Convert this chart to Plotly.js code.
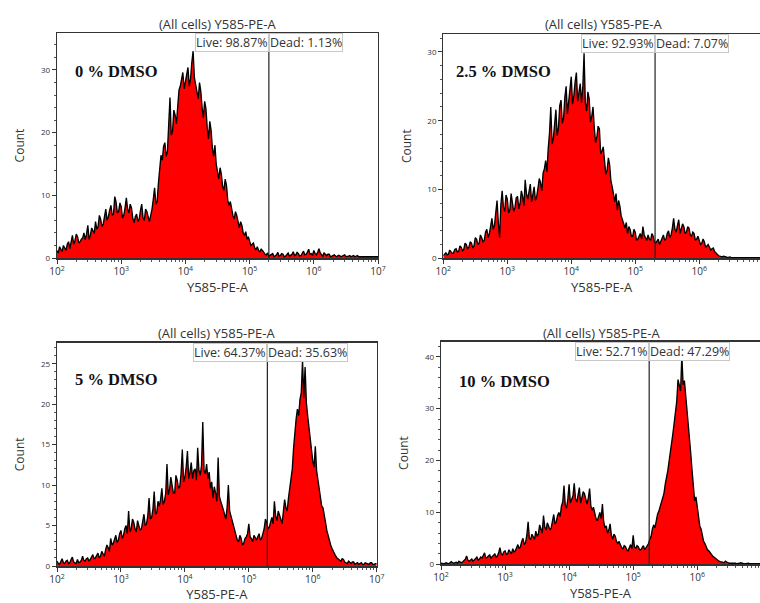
<!DOCTYPE html>
<html>
<head>
<meta charset="utf-8">
<script src="https://cdn.plot.ly/plotly-3.0.1.min.js"></script>
<style>
  html, body { margin: 0; padding: 0; background: #fff; }
  #chart { width: 760px; height: 603px; }
</style>
</head>
<body>
<div id="chart"></div>
<script>
// ---- Data ----
// Channel positions as log10 of Y585-PE-A intensity
const channelLog = [
  2.00, 2.02, 2.04, 2.06, 2.08, 2.10, 2.12, 2.14, 2.16, 2.18, 2.20, 2.22, 2.24, 2.26, 2.28, 2.30, 2.32, 2.34, 2.36, 2.38,
  2.40, 2.42, 2.44, 2.46, 2.48, 2.50, 2.52, 2.54, 2.56, 2.58, 2.60, 2.62, 2.64, 2.66, 2.68, 2.70, 2.72, 2.74, 2.76, 2.78,
  2.80, 2.82, 2.84, 2.86, 2.88, 2.90, 2.92, 2.94, 2.96, 2.98, 3.00, 3.02, 3.04, 3.06, 3.08, 3.10, 3.12, 3.14, 3.16, 3.18,
  3.20, 3.22, 3.24, 3.26, 3.28, 3.30, 3.32, 3.34, 3.36, 3.38, 3.40, 3.42, 3.44, 3.46, 3.48, 3.50, 3.52, 3.54, 3.56, 3.58,
  3.60, 3.62, 3.64, 3.66, 3.68, 3.70, 3.72, 3.74, 3.76, 3.78, 3.80, 3.82, 3.84, 3.86, 3.88, 3.90, 3.92, 3.94, 3.96, 3.98,
  4.00, 4.02, 4.04, 4.06, 4.08, 4.10, 4.12, 4.14, 4.16, 4.18, 4.20, 4.22, 4.24, 4.26, 4.28, 4.30, 4.32, 4.34, 4.36, 4.38,
  4.40, 4.42, 4.44, 4.46, 4.48, 4.50, 4.52, 4.54, 4.56, 4.58, 4.60, 4.62, 4.64, 4.66, 4.68, 4.70, 4.72, 4.74, 4.76, 4.78,
  4.80, 4.82, 4.84, 4.86, 4.88, 4.90, 4.92, 4.94, 4.96, 4.98, 5.00, 5.02, 5.04, 5.06, 5.08, 5.10, 5.12, 5.14, 5.16, 5.18,
  5.20, 5.22, 5.24, 5.26, 5.28, 5.30, 5.32, 5.34, 5.36, 5.38, 5.40, 5.42, 5.44, 5.46, 5.48, 5.50, 5.52, 5.54, 5.56, 5.58,
  5.60, 5.62, 5.64, 5.66, 5.68, 5.70, 5.72, 5.74, 5.76, 5.78, 5.80, 5.82, 5.84, 5.86, 5.88, 5.90, 5.92, 5.94, 5.96, 5.98,
  6.00, 6.02, 6.04, 6.06, 6.08, 6.10, 6.12, 6.14, 6.16, 6.18, 6.20, 6.22, 6.24, 6.26, 6.28, 6.30, 6.32, 6.34, 6.36, 6.38,
  6.40, 6.42, 6.44, 6.46, 6.48, 6.50, 6.52, 6.54, 6.56, 6.58, 6.60, 6.62, 6.64, 6.66, 6.68, 6.70, 6.72, 6.74, 6.76, 6.78,
  6.80, 6.82, 6.84, 6.86, 6.88, 6.90, 6.92, 6.94, 6.96, 6.98, 7.00
];

const count0 = [
  1.2, 0.8, 1.8, 1.3, 1.0, 2.0, 1.6, 1.2, 2.2, 2.6, 1.5, 2.4, 3.6, 2.2, 2.8, 3.8, 3.4, 2.4, 2.6, 3.0,
  3.2, 4.0, 2.9, 3.8, 5.2, 3.0, 3.6, 4.8, 4.4, 3.9, 5.8, 4.6, 5.0, 6.8, 6.2, 5.0, 5.4, 6.6, 7.8, 6.0,
  6.6, 7.6, 8.4, 6.8, 7.0, 9.8, 8.9, 7.2, 7.4, 8.8, 8.2, 6.4, 6.8, 8.0, 9.6, 7.8, 7.2, 8.6, 8.0, 6.4,
  5.6, 6.6, 7.0, 5.8, 6.2, 7.6, 8.6, 6.4, 6.0, 7.8, 7.4, 6.6, 5.8, 6.8, 7.8, 9.4, 11.2, 8.6, 9.0, 12.0,
  13.8, 16.4, 15.6, 17.8, 18.4, 16.2, 17.0, 21.0, 25.6, 19.6, 20.2, 23.6, 22.8, 21.4, 24.6, 26.8, 27.4, 28.8, 29.6, 27.0,
  28.2, 29.8, 30.4, 27.4, 28.6, 31.2, 33.0, 28.8, 27.8, 26.2, 25.4, 28.0, 26.6, 24.0, 22.4, 25.0, 23.8, 20.8, 19.0, 21.8,
  20.4, 17.6, 16.2, 18.0, 15.0, 13.8, 12.6, 14.4, 13.4, 11.4, 10.8, 12.6, 11.6, 9.2, 8.4, 9.0, 7.6, 6.8, 6.2, 7.4,
  6.8, 5.4, 4.8, 5.8, 5.2, 4.0, 3.6, 4.2, 3.0, 3.4, 2.6, 2.0, 2.2, 2.4, 1.6, 1.3, 1.8, 1.2, 1.0, 1.4,
  1.2, 0.8, 0.6, 0.5, 0.8, 0.3, 0.4, 0.6, 0.7, 0.2, 0.3, 0.5, 0.9, 0.3, 0.4, 0.7, 0.6, 0.2, 0.3, 0.5,
  0.8, 0.3, 0.4, 0.6, 1.0, 0.4, 0.5, 0.9, 0.7, 0.3, 0.4, 0.8, 1.1, 0.5, 0.6, 0.9, 1.4, 0.6, 0.7, 0.4,
  1.2, 0.7, 0.5, 0.9, 1.5, 0.8, 0.6, 0.3, 0.8, 0.5, 0.4, 0.6, 0.6, 0.2, 0.3, 0.4, 0.5, 0.3, 0.2, 0.4,
  0.4, 0.2, 0.3, 0.4, 0.5, 0.2, 0.2, 0.3, 0.4, 0.2, 0.3, 0.4, 0.2, 0.3, 0.4, 0.2, 0.2, 0.3, 0.3, 0.2,
  0.2, 0.3, 0.3, 0.2, 0.2, 0.3, 0.3, 0.2, 0.2, 0.3, 0.2
];

const count2_5 = [
  0.4, 0.7, 0.8, 0.5, 0.6, 1.2, 1.0, 0.7, 0.8, 1.3, 1.4, 0.9, 1.0, 1.8, 1.6, 1.1, 1.3, 2.2, 2.0, 1.4,
  1.6, 2.4, 2.2, 1.5, 1.8, 3.0, 2.8, 2.0, 2.2, 3.4, 3.0, 2.4, 2.6, 3.8, 4.2, 3.0, 3.6, 5.0, 5.8, 4.2,
  4.8, 6.6, 8.4, 5.2, 3.0, 7.8, 9.8, 7.4, 6.8, 9.2, 8.6, 6.6, 7.0, 9.4, 8.2, 6.8, 7.4, 8.8, 9.0, 7.2,
  8.0, 9.8, 9.0, 7.6, 11.4, 9.4, 8.6, 10.0, 10.8, 8.2, 9.2, 10.4, 8.4, 9.0, 10.2, 11.6, 11.0, 9.8, 12.4, 13.0,
  14.2, 12.6, 16.0, 18.2, 22.0, 16.6, 17.4, 19.8, 21.6, 17.8, 19.0, 22.2, 23.0, 19.6, 20.4, 23.4, 25.0, 21.0, 22.8, 25.2,
  26.4, 22.4, 23.6, 25.6, 27.0, 22.8, 24.0, 25.4, 22.6, 24.8, 29.8, 22.6, 21.4, 24.2, 23.2, 19.8, 20.6, 22.0, 19.0, 16.8,
  17.6, 19.2, 18.8, 15.2, 15.6, 16.2, 14.2, 12.2, 12.8, 14.6, 13.6, 11.2, 10.4, 9.2, 8.2, 9.4, 7.0, 8.4, 7.6, 6.2,
  5.6, 4.8, 4.4, 5.2, 3.6, 4.6, 4.2, 3.2, 3.2, 4.2, 3.8, 2.6, 2.8, 3.2, 3.6, 2.8, 4.6, 3.4, 3.0, 2.6,
  3.4, 2.8, 2.6, 3.6, 3.2, 2.4, 2.2, 2.6, 2.8, 2.0, 2.4, 3.0, 3.4, 2.6, 2.8, 3.6, 4.0, 3.0, 3.4, 4.4,
  5.8, 4.2, 3.8, 4.8, 5.6, 3.6, 4.2, 5.0, 4.6, 3.6, 3.8, 4.6, 4.4, 3.4, 3.2, 3.8, 3.6, 2.6, 2.8, 3.2,
  2.6, 2.0, 2.2, 2.8, 2.4, 1.6, 1.8, 2.0, 1.6, 1.2, 1.4, 1.5, 1.0, 0.8, 0.5, 0.4, 0.3, 0.2, 0.2, 0.3,
  0.3, 0.2, 0.1, 0.2, 0.2, 0.1, 0.1, 0.2, 0.2, 0.1, 0.1, 0.2, 0.2, 0.1, 0.1, 0.2, 0.1, 0.1, 0.2, 0.1,
  0.1, 0.2, 0.1, 0.1, 0.2, 0.1, 0.1, 0.2, 0.1, 0.1, 0.1
];

const count5 = [
  0.6, 0.3, 0.2, 0.5, 0.9, 0.4, 0.3, 0.6, 0.7, 0.3, 0.4, 0.8, 1.1, 0.5, 0.4, 0.3, 0.8, 0.4, 0.5, 0.7,
  1.2, 0.7, 0.6, 0.9, 1.0, 0.6, 0.8, 1.2, 1.4, 0.9, 1.0, 1.3, 1.6, 1.0, 1.2, 1.8, 1.5, 1.2, 2.0, 2.6,
  2.3, 1.8, 3.4, 2.6, 2.8, 3.2, 3.8, 2.9, 3.2, 4.0, 4.4, 3.4, 3.8, 4.6, 5.0, 4.0, 6.8, 4.2, 4.6, 5.8,
  5.4, 4.6, 4.2, 5.6, 5.0, 4.4, 4.6, 5.8, 6.4, 5.0, 5.2, 6.2, 8.4, 5.8, 6.0, 7.0, 9.2, 6.4, 6.6, 8.0,
  7.4, 8.2, 9.6, 7.6, 8.0, 9.0, 12.6, 8.8, 9.4, 11.0, 10.2, 9.0, 9.0, 11.2, 10.6, 9.6, 9.8, 11.4, 14.4, 10.4,
  11.0, 12.2, 14.2, 10.8, 11.6, 12.8, 10.8, 11.8, 12.0, 10.6, 14.6, 11.8, 11.2, 12.4, 17.8, 11.8, 11.4, 12.6, 10.8, 11.6,
  9.6, 10.4, 8.4, 9.8, 9.0, 8.0, 13.4, 8.6, 8.0, 7.6, 7.0, 6.4, 5.8, 7.2, 10.0, 6.8, 6.2, 5.4, 4.8, 4.2,
  3.6, 3.2, 3.0, 3.8, 3.4, 2.6, 2.8, 3.4, 3.6, 4.0, 5.2, 3.6, 3.4, 3.0, 3.8, 3.4, 3.2, 3.6, 4.0, 3.2,
  3.4, 4.0, 4.6, 5.8, 5.4, 4.6, 4.8, 5.4, 6.0, 5.2, 8.0, 6.2, 5.6, 6.8, 6.4, 5.8, 5.2, 6.6, 8.2, 7.2,
  6.8, 8.4, 9.8, 10.8, 12.0, 14.6, 16.8, 18.2, 19.4, 18.6, 20.6, 21.4, 25.4, 20.8, 24.6, 20.2, 18.6, 17.0, 15.4, 14.2,
  13.0, 12.2, 14.8, 11.8, 10.6, 9.8, 8.6, 7.4, 7.2, 6.0, 5.4, 4.4, 3.8, 3.0, 2.6, 2.2, 1.8, 1.4, 1.2, 1.0,
  0.9, 0.7, 0.6, 0.9, 0.8, 0.5, 0.4, 0.3, 0.6, 0.4, 0.3, 0.5, 0.5, 0.2, 0.3, 0.4, 0.2, 0.3, 0.4, 0.2,
  0.2, 0.4, 0.3, 0.2, 0.2, 0.4, 0.4, 0.2, 0.2, 0.3, 0.3
];

const count10 = [
  0.2, 0.1, 0.1, 0.2, 0.3, 0.2, 0.1, 0.3, 0.5, 0.3, 0.2, 0.3, 0.4, 0.2, 0.6, 0.4, 0.3, 0.5, 0.8, 1.0,
  1.6, 0.8, 0.6, 0.9, 1.0, 0.6, 0.8, 1.1, 1.4, 0.8, 1.0, 1.4, 1.2, 1.6, 2.2, 1.2, 1.3, 1.6, 1.8, 1.2,
  1.5, 1.8, 2.0, 1.4, 1.6, 2.2, 3.2, 2.0, 1.8, 2.4, 2.6, 1.9, 2.0, 2.8, 2.4, 2.0, 3.0, 2.4, 2.6, 3.2,
  3.8, 3.0, 3.4, 4.4, 5.0, 3.8, 4.2, 5.6, 8.2, 5.0, 4.8, 5.8, 5.4, 4.8, 6.4, 5.4, 5.8, 7.6, 6.8, 6.0,
  9.4, 7.2, 6.6, 8.0, 7.4, 6.6, 7.0, 8.4, 9.6, 7.8, 8.2, 9.4, 10.0, 9.2, 11.2, 12.0, 15.2, 11.4, 10.8, 12.6,
  15.4, 11.8, 12.4, 13.2, 15.6, 12.6, 12.0, 13.4, 14.8, 11.8, 12.8, 14.0, 13.6, 12.2, 11.6, 12.8, 14.6, 11.2, 10.4, 11.0,
  9.6, 8.8, 8.4, 9.4, 10.0, 8.8, 11.6, 8.2, 7.0, 7.4, 6.0, 6.6, 7.8, 5.6, 4.8, 5.8, 5.4, 4.4, 4.0, 4.4,
  3.6, 3.2, 3.0, 3.6, 3.4, 2.8, 2.6, 3.2, 3.8, 3.0, 5.6, 3.4, 3.0, 3.6, 3.4, 2.8, 2.8, 3.2, 3.6, 2.8,
  3.2, 3.6, 4.0, 4.8, 5.4, 6.8, 7.6, 7.0, 8.4, 9.6, 10.2, 11.0, 11.8, 12.6, 13.6, 15.4, 16.4, 18.0, 19.8, 21.4,
  23.4, 25.2, 27.2, 29.6, 31.4, 35.6, 34.2, 33.4, 40.2, 34.6, 35.4, 32.6, 31.0, 27.4, 24.6, 21.2, 18.0, 14.8, 12.2, 13.0,
  10.8, 8.6, 7.4, 6.8, 5.6, 4.4, 4.0, 3.2, 2.8, 2.6, 2.2, 1.8, 1.6, 1.4, 1.2, 0.9, 0.8, 0.6, 0.5, 0.4,
  0.4, 0.3, 0.6, 0.4, 0.3, 0.2, 0.2, 0.3, 0.3, 0.2, 0.2, 0.1, 0.1, 0.2, 0.3, 0.2, 0.2, 0.1, 0.1, 0.2,
  0.2, 0.1, 0.1, 0.2, 0.2, 0.1, 0.1, 0.2, 0.2, 0.1, 0.1
];

const sampleLabels = ['0 % DMSO', '2.5 % DMSO', '5 % DMSO', '10 % DMSO'];
const liveLabels = ['Live: 98.87%', 'Live: 92.93%', 'Live: 64.37%', 'Live: 52.71%'];
const deadLabels = ['Dead: 1.13%', 'Dead: 7.07%', 'Dead: 35.63%', 'Dead: 47.29%'];
const gateLog = [5.30, 5.31, 5.29, 5.25];
const panelTitle = '(All cells) Y585-PE-A';
const xTitle = 'Y585-PE-A';
const yTitle = 'Count';

// ---- Layout geometry (pixels) ----
const W = 760, H = 603;
const boxes = [
  {l: 57,    r: 378,   t: 33,    b: 258,   xr: [2, 7],    yr: [0, 35.9], dy: 10, mdy: 2, mirrorY: true,  titleX: 217.5, titleY: 24,   lblX: 73,  lblY: 71},
  {l: 443.3, r: 760,   t: 34,    b: 258.3, xr: [2, 6.95], yr: [0, 32.6], dy: 10, mdy: 2, mirrorY: false, titleX: 603.5, titleY: 24.5, lblX: 454, lblY: 71},
  {l: 57,    r: 376.7, t: 342.7, b: 566,   xr: [2, 7],    yr: [0, 27.6], dy: 5,  mdy: 1, mirrorY: true,  titleX: 216.5, titleY: 333,  lblX: 73,  lblY: 379},
  {l: 441,   r: 760,   t: 341.7, b: 564.3, xr: [2, 6.98], yr: [0, 42.9], dy: 10, mdy: 2, mirrorY: false, titleX: 601.5, titleY: 332.7, lblX: 457, lblY: 381}
];
const series = [count0, count2_5, count5, count10];

const FONT = 'Open Sans, DejaVu Sans, sans-serif';
const xValues = channelLog.map(v => Math.pow(10, v));

const traces = [];
const layout = {
  width: W, height: H,
  margin: {l: 0, r: 0, t: 0, b: 0},
  paper_bgcolor: '#fff', plot_bgcolor: '#fff',
  showlegend: false,
  font: {family: FONT, color: '#333'},
  annotations: []
};

boxes.forEach((bx, i) => {
  const n = i === 0 ? '' : String(i + 1);
  traces.push({
    type: 'scatter', mode: 'lines',
    x: xValues, y: series[i],
    xaxis: 'x' + n, yaxis: 'y' + n,
    fill: 'tozeroy', fillcolor: '#ff0000',
    line: {color: '#000', width: 1.35},
    hoverinfo: 'skip'
  });
  // gate line (live / dead boundary)
  const g = Math.pow(10, gateLog[i]);
  traces.push({
    type: 'scatter', mode: 'lines',
    x: [g, g], y: [bx.yr[0], bx.yr[1]],
    xaxis: 'x' + n, yaxis: 'y' + n,
    line: {color: '#222', width: 1.2},
    hoverinfo: 'skip', cliponaxis: false
  });
  layout['xaxis' + n] = {
    type: 'log', range: bx.xr, domain: [bx.l / W, bx.r / W], anchor: 'y' + n,
    dtick: 1, exponentformat: 'power',
    showline: true, mirror: true, linecolor: '#333', linewidth: 1.5,
    ticks: 'outside', ticklen: 4, tickcolor: '#333', tickwidth: 1,
    minor: {ticks: 'outside', ticklen: 2, tickcolor: '#555', showgrid: false},
    tickfont: {family: FONT, size: 8, color: '#333'},
    showgrid: false, zeroline: false, fixedrange: true,
    title: {text: xTitle, font: {family: FONT, size: 13, color: '#333'}, standoff: 5}
  };
  layout['yaxis' + n] = {
    range: bx.yr, domain: [1 - bx.b / H, 1 - bx.t / H], anchor: 'x' + n,
    dtick: bx.dy,
    showline: true, mirror: bx.mirrorY, linecolor: '#333', linewidth: 1.2,
    ticks: 'outside', ticklen: 4, tickcolor: '#333', tickwidth: 1,
    minor: {dtick: bx.mdy, ticks: 'outside', ticklen: 2, tickcolor: '#555', showgrid: false},
    tickfont: {family: FONT, size: 8, color: '#333'},
    showgrid: false, zeroline: false, fixedrange: true,
    title: {text: yTitle, font: {family: FONT, size: 12, color: '#333'}, standoff: 13}
  };
  // gate header boxes
  layout.annotations.push({
    xref: 'x' + n, yref: 'y' + n + ' domain', x: gateLog[i], y: 1,
    xanchor: 'right', yanchor: 'top', showarrow: false,
    text: liveLabels[i], font: {family: FONT, size: 12.5, color: '#333'},
    bgcolor: '#fff', bordercolor: '#c8c8c8', borderwidth: 1, borderpad: 0
  });
  layout.annotations.push({
    xref: 'x' + n, yref: 'y' + n + ' domain', x: gateLog[i], y: 1,
    xanchor: 'left', yanchor: 'top', showarrow: false,
    text: deadLabels[i], font: {family: FONT, size: 12.5, color: '#333'},
    bgcolor: '#fff', bordercolor: '#c8c8c8', borderwidth: 1, borderpad: 0
  });
  // panel title
  layout.annotations.push({
    xref: 'paper', yref: 'paper', x: bx.titleX / W, y: 1 - bx.titleY / H,
    xanchor: 'center', yanchor: 'middle', showarrow: false,
    text: panelTitle, font: {family: FONT, size: 13, color: '#333'}
  });
  // sample label
  layout.annotations.push({
    xref: 'paper', yref: 'paper', x: bx.lblX / W, y: 1 - bx.lblY / H,
    xanchor: 'left', yanchor: 'middle', showarrow: false,
    text: '<b>' + sampleLabels[i] + '</b>',
    font: {family: 'Liberation Serif, DejaVu Serif, serif', size: 16.5, color: '#111'}
  });
});

Plotly.newPlot('chart', traces, layout, {displayModeBar: false, staticPlot: true});
</script>
</body>
</html>
